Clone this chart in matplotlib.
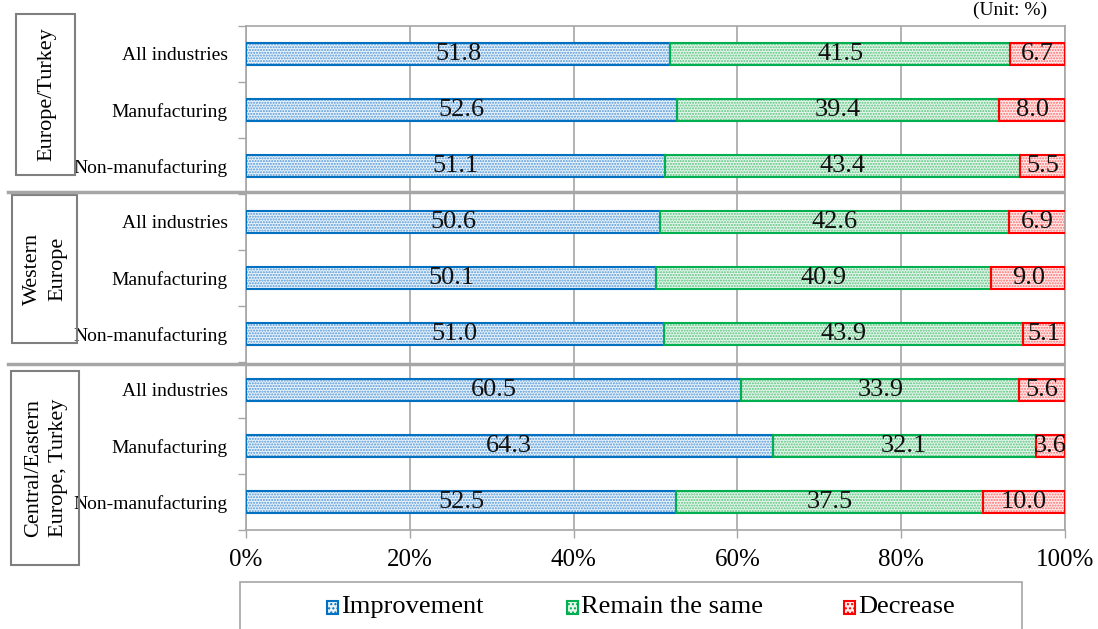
import matplotlib
matplotlib.use("Agg")
import matplotlib.pyplot as plt
from matplotlib.patches import Rectangle
from matplotlib.lines import Line2D
import numpy as np

plt.rcParams["font.family"] = ["Liberation Serif", "DejaVu Serif"]
plt.rcParams["hatch.linewidth"] = 1.0

industries = ["All industries", "Manufacturing", "Non-manufacturing"] * 3
regions = ["Europe/Turkey", "Western\nEurope", "Central/Eastern\nEurope, Turkey"]
improvement = [51.8, 52.6, 51.1, 50.6, 50.1, 51.0, 60.5, 64.3, 52.5]
same = [41.5, 39.4, 43.4, 42.6, 40.9, 43.9, 33.9, 32.1, 37.5]
decrease = [6.7, 8.0, 5.5, 6.9, 9.0, 5.1, 5.6, 3.6, 10.0]
series_names = ["Improvement", "Remain the same", "Decrease"]

# (outline, dot colour, background tint)
styles = [
    ("#0070C0", "#4E95D6", "#EAF3FB"),
    ("#00B050", "#55C27B", "#E6F6EC"),
    ("#FF0000", "#FF6B6B", "#FFEDED"),
]
GRAY = "#A6A6A6"

W, H = 1098, 629
fig = plt.figure(figsize=(W / 100, H / 100), dpi=100)
ax = fig.add_axes([246 / W, 1 - 530 / H, (1065 - 246) / W, (530 - 26) / H])

y = np.arange(len(industries))
left = np.zeros(len(industries))
bar_h = 0.39
for vals, (edge, dots, face) in zip([improvement, same, decrease], styles):
    vals = np.array(vals)
    ax.barh(y, vals, left=left, height=bar_h, color=face, edgecolor=dots,
            hatch="......", linewidth=0, zorder=2)
    ax.barh(y, vals, left=left, height=bar_h, fill=False, edgecolor=edge,
            linewidth=1.5, zorder=3)
    for yi, l, v in zip(y, left, vals):
        ax.text(l + v / 2, yi, f"{v:.1f}", ha="center", va="center",
                fontsize=19, color="#111111", zorder=4)
    left += vals

ax.set_xlim(0, 100)
ax.set_ylim(len(industries) - 0.5, -0.5)
ax.set_xticks(np.arange(0, 101, 20))
ax.set_xticklabels([f"{t}%" for t in range(0, 101, 20)], fontsize=18)
ax.set_yticks(y)
ax.set_yticklabels(industries, fontsize=14)
ax.set_yticks(np.arange(-0.5, len(industries)), minor=True)
ax.tick_params(axis="y", which="major", length=0, pad=13)
ax.tick_params(axis="y", which="minor", length=6, color=GRAY, width=1)
ax.tick_params(axis="x", length=6, color=GRAY, width=1, pad=8)
ax.grid(axis="x", color=GRAY, linewidth=1.2, zorder=0)
ax.set_axisbelow(True)
for s in ax.spines.values():
    s.set_color(GRAY)
    s.set_linewidth(1.2)

# region boxes on the left
boxes = [(16, 14, 75, 175), (12, 195, 77, 343), (11, 371, 79, 565)]
for name, (x0, y0, x1, y1) in zip(regions, boxes):
    fig.patches.append(Rectangle((x0 / W, 1 - y1 / H), (x1 - x0) / W, (y1 - y0) / H,
                                 transform=fig.transFigure, fill=False,
                                 edgecolor="#7F7F7F", linewidth=1.5))
    fig.text((x0 + x1) / 2 / W + 1 / W, 1 - (y0 + y1) / 2 / H, name, rotation=90,
             ha="center", va="center", fontsize=16, linespacing=1.45)

# separators between regions
for ys in [192, 364]:
    fig.add_artist(Line2D([8 / W, 1063 / W], [1 - ys / H, 1 - ys / H],
                          transform=fig.transFigure, color=GRAY, linewidth=2.5))

fig.text(1047 / W, 1 - 10 / H, "(Unit: %)", ha="right", va="center", fontsize=14)

# legend: frame, swatches and labels
fig.patches.append(Rectangle((240 / W, 1 - 640 / H), (1022 - 240) / W, (640 - 582) / H,
                             transform=fig.transFigure, fill=False,
                             edgecolor=GRAY, linewidth=1.2))
legend_x = [327, 567, 844]
for lx, name, (edge, dots, face) in zip(legend_x, series_names, styles):
    fig.patches.append(Rectangle((lx / W, 1 - 614 / H), 11 / W, 13 / H,
                                 transform=fig.transFigure, facecolor=face,
                                 edgecolor=edge, hatch="....", linewidth=1.5))
    fig.text((lx + 14) / W, 1 - 607 / H, name, ha="left", va="center", fontsize=19)

fig.savefig("out.png", dpi=100)
